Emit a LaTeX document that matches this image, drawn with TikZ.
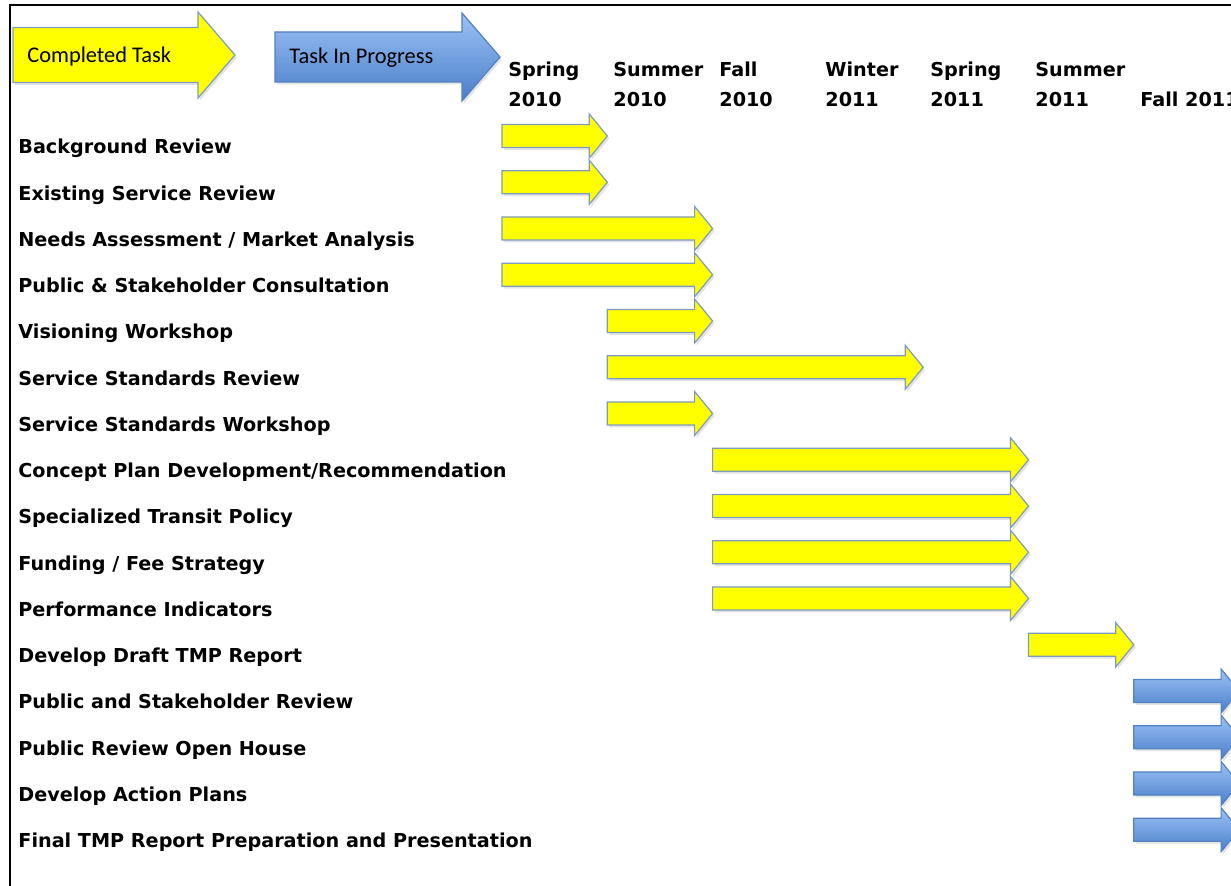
\documentclass[tikz,border=0pt]{standalone}
\usepackage{fontspec}
\setmainfont{DejaVu Sans}
\newfontfamily\legendfont{Carlito}
\usetikzlibrary{shadows}
\definecolor{barYellow}{HTML}{FFFF00}
\definecolor{barEdge}{HTML}{7F9CC0}
\definecolor{progTop}{HTML}{9CC2F6}
\definecolor{progBottom}{HTML}{4A7EC9}
\definecolor{progEdge}{HTML}{5282C0}
\tikzset{px/.style={x={(0.5pt,0)}, y={(0,-0.5pt)}}}
\tikzset{done/.style={fill=barYellow, draw=barEdge, line width=0.6pt,
    drop shadow={shadow xshift=1pt, shadow yshift=-1.2pt, opacity=0.22}}}
\tikzset{ongoing/.style={top color=progTop, bottom color=progBottom, draw=progEdge, line width=0.6pt,
    drop shadow={shadow xshift=1pt, shadow yshift=-1.2pt, opacity=0.22}}}
\tikzset{task/.style={anchor=base west, inner sep=0pt, font=\bfseries\fontsize{9.6}{11}\selectfont}}
\tikzset{season/.style={anchor=base west, inner sep=0pt, font=\bfseries\fontsize{9.6}{11}\selectfont}}
\tikzset{legend text/.style={anchor=base west, inner sep=0pt, font=\legendfont\fontsize{11.2}{13}\selectfont}}
% one bar: style, row, first column, last column
\newcommand{\ganttbar}[4]{%
  \pgfmathsetmacro{\yc}{136+46.25*(#2-1)}%
  \pgfmathsetmacro{\xa}{502+105.3*#3}%
  \pgfmathsetmacro{\xb}{502+105.3*#4}%
  \draw[#1] (\xa,\yc-11.5) -- (\xb-18,\yc-11.5) -- (\xb-18,\yc-22) -- (\xb,\yc)
    -- (\xb-18,\yc+22) -- (\xb-18,\yc+11.5) -- (\xa,\yc+11.5) -- cycle;}

\begin{document}
\begin{tikzpicture}[px]
  \useasboundingbox (0,0) rectangle (1231,886);
  \clip (0,0) rectangle (1231,886);
  \fill[white] (0,0) rectangle (1231,886);
  \draw[line width=1pt] (10,886) -- (10,5) -- (1231,5);

  % legend
  \draw[done] (13,27.5) -- (198,27.5) -- (198,12) -- (235,55) -- (198,98) -- (198,82.5) -- (13,82.5) -- cycle;
  \node[legend text] (completed) at (27,63) {Completed Task};
  \draw[ongoing] (275,32) -- (462,32) -- (462,13) -- (500,57) -- (462,101) -- (462,82) -- (275,82) -- cycle;
  \node[legend text] (progress) at (289,64) {Task In Progress};

  % seasons
  \foreach \x/\s/\yr [count=\c] in {508/Spring/2010, 613/Summer/2010, 719/Fall/2010,
      825/Winter/2011, 930/Spring/2011, 1035/Summer/2011} {
    \node[season] (hd\c) at (\x,77) {\s};
    \node[season] (yr\c) at (\x,107) {\yr};
  }
  \node[season] (yr7) at (1140,107) {Fall 2011};

  % tasks
  \foreach \lbl/\a/\b/\kind [count=\r] in {
      {Background Review}/0/1/done,
      {Existing Service Review}/0/1/done,
      {Needs Assessment / Market Analysis}/0/2/done,
      {Public \& Stakeholder Consultation}/0/2/done,
      {Visioning Workshop}/1/2/done,
      {Service Standards Review}/1/4/done,
      {Service Standards Workshop}/1/2/done,
      {Concept Plan Development/Recommendation}/2/5/done,
      {Specialized Transit Policy}/2/5/done,
      {Funding / Fee Strategy}/2/5/done,
      {Performance Indicators}/2/5/done,
      {Develop Draft TMP Report}/5/6/done,
      {Public and Stakeholder Review}/6/7/ongoing,
      {Public Review Open House}/6/7/ongoing,
      {Develop Action Plans}/6/7/ongoing,
      {Final TMP Report Preparation and Presentation}/6/7/ongoing} {
    \node[task] (task\r) at (18,{154+46.25*(\r-1)}) {\lbl};
    \ganttbar{\kind}{\r}{\a}{\b}
  }
\end{tikzpicture}
\end{document}
